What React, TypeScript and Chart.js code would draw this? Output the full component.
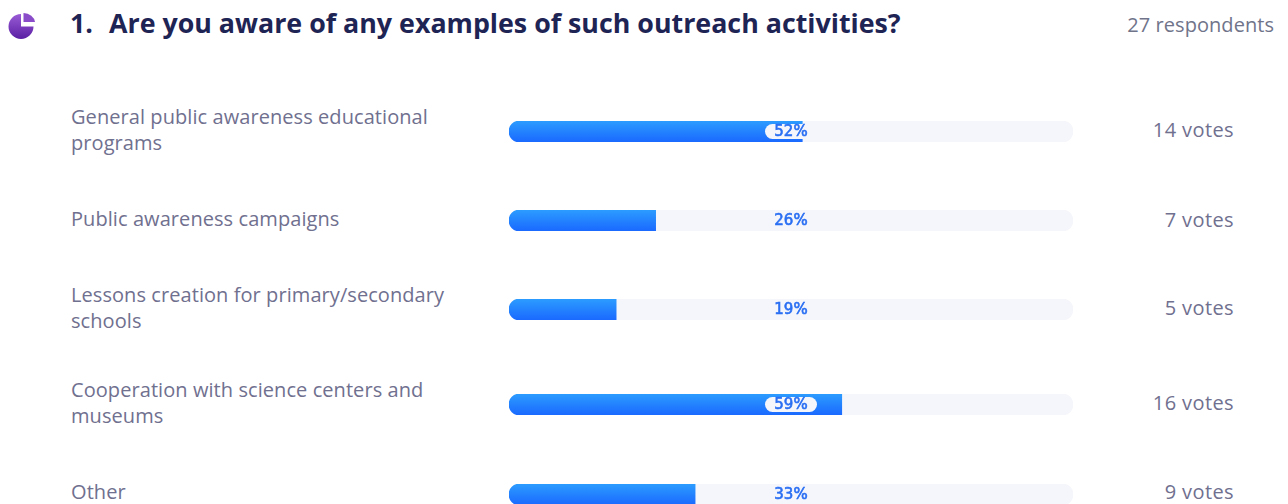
import React, { useEffect, useRef } from "react";
import { Chart, registerables } from "chart.js";

Chart.register(...registerables);

const categories: string[][] = [
  ["General public awareness educational", "programs"],
  ["Public awareness campaigns"],
  ["Lessons creation for primary/secondary", "schools"],
  ["Cooperation with science centers and", "museums"],
  ["Other"],
];
const percentages = [52, 26, 19, 59, 33];
const votes = [14, 7, 5, 16, 9];
const respondents = 27;
const questionNumber = "1.";
const questionText = "Are you aware of any examples of such outreach activities?";

const rowCentres = [131.5, 220, 309, 404, 494];
const labelCentres = [130, 219.5, 308, 403, 492];

const BAR_LEFT = 509;
const BAR_WIDTH = 564;
const BAR_HEIGHT = 21;
const TRACK = "#f5f6fb";
const TEXT_FONT = "'Open Sans', sans-serif";

// Draws the percentage in a small pill at the middle of the track.
const percentPill = {
  id: "percentPill",
  afterDatasetsDraw(chart: any) {
    const { ctx, chartArea } = chart;
    const value = chart.data.datasets[0].data[0];
    const cx = chart.scales.x.getPixelForValue(50);
    const cy = (chartArea.top + chartArea.bottom) / 2;
    ctx.save();
    ctx.fillStyle = TRACK;
    ctx.beginPath();
    ctx.roundRect(cx - 26, cy - 7.5, 52, 15, 7.5);
    ctx.fill();
    ctx.fillStyle = "#2a6ff3";
    ctx.strokeStyle = "#2a6ff3";
    ctx.lineWidth = 0.6;
    ctx.font = "15px 'DejaVu Sans', sans-serif";
    ctx.textAlign = "center";
    ctx.textBaseline = "middle";
    ctx.fillText(`${value}%`, cx, cy + 0.5);
    ctx.strokeText(`${value}%`, cx, cy + 0.5);
    ctx.restore();
  },
};

function VoteBar({ value, label }: { value: number; label: string }) {
  const ref = useRef<HTMLCanvasElement>(null);
  useEffect(() => {
    const canvas = ref.current!;
    const gradient = canvas.getContext("2d")!.createLinearGradient(0, 0, 0, BAR_HEIGHT);
    gradient.addColorStop(0, "#2c9cff");
    gradient.addColorStop(1, "#1a69ff");
    const chart = new Chart(canvas, {
      type: "bar",
      data: {
        labels: [label],
        datasets: [
          {
            data: [value],
            backgroundColor: gradient,
            borderSkipped: false,
            borderRadius: { topLeft: 11, bottomLeft: 11, topRight: 0, bottomRight: 0 },
            order: 0,
          },
          {
            data: [100],
            backgroundColor: TRACK,
            borderSkipped: false,
            borderRadius: 11,
            order: 1,
          },
        ],
      },
      options: {
        indexAxis: "y",
        animation: false,
        responsive: false,
        maintainAspectRatio: false,
        events: [],
        layout: { padding: 0 },
        datasets: { bar: { grouped: false, barPercentage: 1, categoryPercentage: 1 } },
        plugins: { legend: { display: false }, tooltip: { enabled: false } },
        scales: {
          x: { display: false, min: 0, max: 100 },
          y: { display: false },
        },
      },
      plugins: [percentPill],
    } as any);
    return () => chart.destroy();
  }, [value, label]);
  return <canvas ref={ref} width={BAR_WIDTH} height={BAR_HEIGHT} style={{ display: "block", width: BAR_WIDTH, height: BAR_HEIGHT }} />;
}

const textBase: React.CSSProperties = { position: "absolute", whiteSpace: "nowrap", fontFamily: TEXT_FONT };

export default function App() {
  return (
    <div style={{ position: "absolute", left: 0, top: 0, width: 1288, height: 504, overflow: "hidden", background: "#fff" }}>
      <svg style={{ position: "absolute", left: 0, top: 0 }} width={48} height={48} viewBox="0 0 48 48">
        <defs>
          <linearGradient id="pieFill" x1="0" y1="0" x2="0" y2="1">
            <stop offset="0" stopColor="#9a5cd6" />
            <stop offset="1" stopColor="#5a1fa3" />
          </linearGradient>
        </defs>
        <path d="M21 14 A12.5 12.5 0 1 0 33.5 26.5 L21 26.5 Z" fill="url(#pieFill)" />
        <path d="M23.5 13 A12 10 0 0 1 35 22 L23.5 22 Z" fill="#8a4cc9" />
      </svg>
      <div style={{ ...textBase, left: 70, top: 5, lineHeight: "36px", fontSize: 26.8, fontWeight: 700, color: "#1e2454" }}>{questionNumber}</div>
      <div style={{ ...textBase, left: 109, top: 5, lineHeight: "36px", fontSize: 26.8, fontWeight: 700, color: "#1e2454" }}>{questionText}</div>
      <div style={{ ...textBase, right: 14, top: 10, lineHeight: "30px", fontSize: 20, letterSpacing: 0.05, color: "#70748a" }}>{respondents} respondents</div>
      {categories.map((lines, i) => (
        <React.Fragment key={i}>
          <div style={{ ...textBase, left: 71, top: labelCentres[i] - (lines.length * 26.5) / 2, lineHeight: "26.5px", fontSize: 20, letterSpacing: 0.07, color: "#70708f" }}>
            {lines.map((line, j) => (
              <div key={j}>{line}</div>
            ))}
          </div>
          <div style={{ position: "absolute", left: BAR_LEFT, top: rowCentres[i] - BAR_HEIGHT / 2 }}>
            <VoteBar value={percentages[i]} label={lines.join(" ")} />
          </div>
          <div style={{ ...textBase, right: 54, top: labelCentres[i] - 15, lineHeight: "30px", fontSize: 20, letterSpacing: 0.4, color: "#70708f" }}>{votes[i]} votes</div>
        </React.Fragment>
      ))}
    </div>
  );
}
